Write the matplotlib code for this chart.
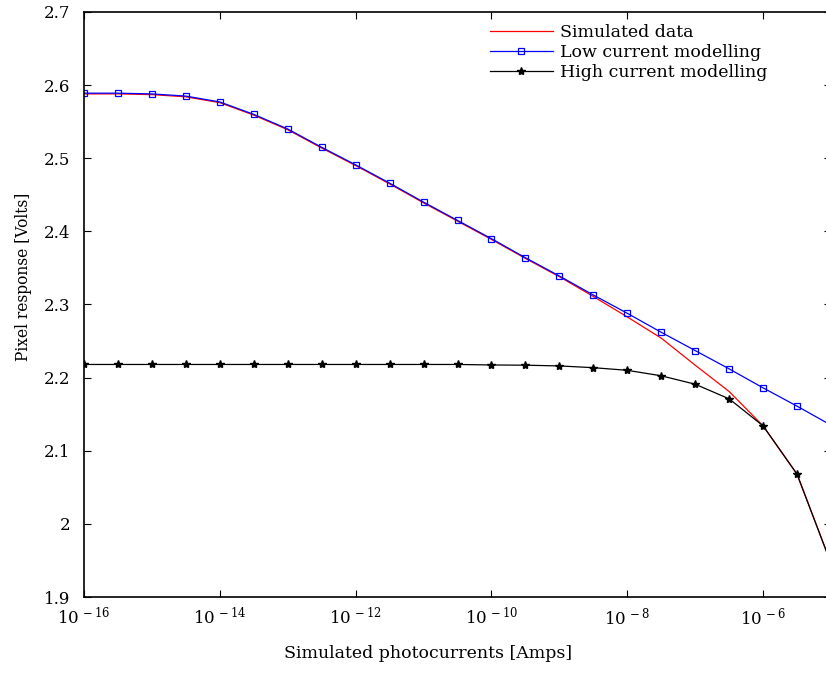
import numpy as np
import matplotlib
matplotlib.use("Agg")
import matplotlib.pyplot as plt
from matplotlib.ticker import FixedLocator, FuncFormatter

# half-decade exponents of the photocurrent sweep
exponents = [-16, -15.5, -15, -14.5, -14, -13.5, -13, -12.5, -12, -11.5, -11,
             -10.5, -10, -9.5, -9, -8.5, -8, -7.5, -7, -6.5, -6, -5.5, -5]

simulated = [2.588, 2.588, 2.587, 2.584, 2.576, 2.559, 2.539, 2.514, 2.490,
             2.465, 2.439, 2.414, 2.389, 2.363, 2.338, 2.311, 2.283, 2.254,
             2.217, 2.181, 2.134, 2.068, 1.946]
low_current = [2.589, 2.589, 2.588, 2.585, 2.577, 2.560, 2.540, 2.515, 2.491,
               2.466, 2.440, 2.415, 2.390, 2.364, 2.339, 2.313, 2.288, 2.262,
               2.237, 2.212, 2.186, 2.161, 2.135]
high_current = [2.218, 2.218, 2.218, 2.218, 2.218, 2.218, 2.218, 2.218, 2.218,
                2.218, 2.218, 2.218, 2.2173, 2.217, 2.216, 2.2136, 2.210, 2.2025,
                2.191, 2.171, 2.134, 2.068, 1.946]

series_labels = ["Simulated data", "Low current modelling", "High current modelling"]
x_label = "Simulated photocurrents [Amps]"
y_label = "Pixel response [Volts]"

plt.rcParams['font.family'] = ['DejaVu Serif']
plt.rcParams['mathtext.fontset'] = 'dejavuserif'
plt.rcParams['font.size'] = 11

currents = 10.0 ** np.array(exponents)

fig = plt.figure(figsize=(8.26, 6.73), dpi=100)
ax = fig.add_axes([84 / 826, 76 / 673, 747 / 826, 585 / 673])

ax.plot(currents, simulated, color='red', lw=0.9, label=series_labels[0])
ax.plot(currents, low_current, color='blue', lw=0.9, marker='s', ms=4.5,
        mfc='none', mec='blue', mew=0.9, label=series_labels[1])
ax.plot(currents, high_current, color='black', lw=0.9, marker='*', ms=6,
        mfc='black', mec='black', label=series_labels[2])

ax.set_xscale('log')
ax.set_xlim(1e-16, 1e-5)
ax.set_ylim(1.9, 2.7)

ax.xaxis.set_major_locator(FixedLocator([1e-16, 1e-14, 1e-12, 1e-10, 1e-8, 1e-6]))
ax.xaxis.set_minor_locator(FixedLocator([]))
ax.xaxis.set_major_formatter(FuncFormatter(
    lambda v, p: r'$10^{\,%d}$' % int(round(np.log10(v)))))
ax.yaxis.set_major_locator(FixedLocator(np.arange(1.9, 2.71, 0.1)))
ax.yaxis.set_major_formatter(FuncFormatter(lambda v, p: '%g' % round(v, 1)))

ax.tick_params(direction='in', length=5, width=0.8, top=True, right=True,
               labelsize=12)
ax.tick_params(axis='x', pad=7)
ax.tick_params(axis='y', pad=10)
for s in ax.spines.values():
    s.set_linewidth(1.2)

ax.set_xlabel(x_label, fontsize=12.5)
ax.set_ylabel(y_label, fontsize=11.2)
ax.xaxis.set_label_coords((428 - 84) / 747, -0.082)
ax.yaxis.set_label_coords((32 - 84) / 747, (597 - 277) / 585)

ax.legend(loc='upper left', bbox_to_anchor=(490 / 826, 1 - 24 / 673),
          bbox_transform=fig.transFigure, frameon=False, fontsize=12.5,
          handlelength=3.6, handletextpad=0.45, labelspacing=0.18,
          borderpad=0, borderaxespad=0)

fig.savefig('out.png', dpi=100)
